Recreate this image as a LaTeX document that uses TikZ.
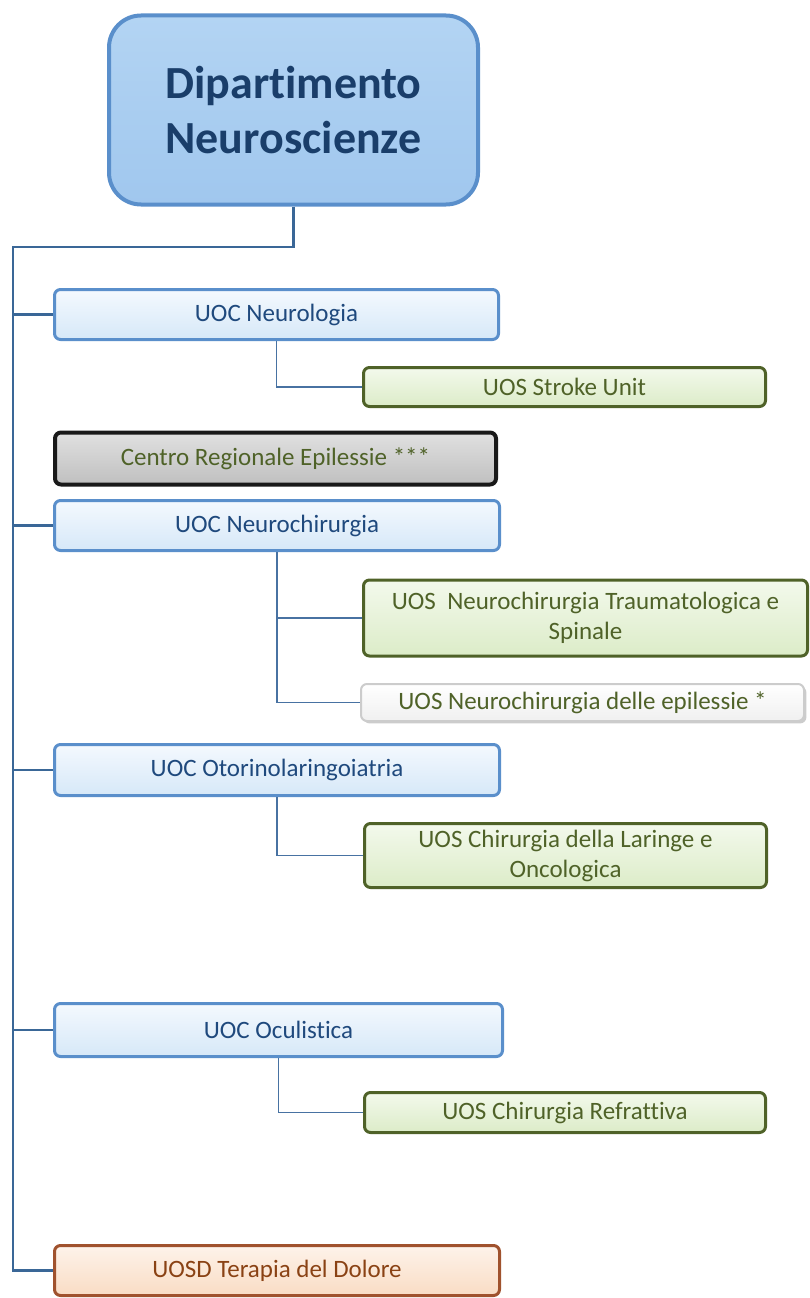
\documentclass[tikz,border=0pt]{standalone}
\usepackage{fontspec}
\setmainfont{Carlito}[Ligatures=NoCommon]
\usetikzlibrary{shadows}
\definecolor{uocline}{HTML}{5A8FCB}
\definecolor{uoctext}{HTML}{1F497D}
\definecolor{uoctop}{HTML}{F4F9FE}
\definecolor{uocbot}{HTML}{D6E8F8}
\definecolor{depttop}{HTML}{B3D4F3}
\definecolor{deptbot}{HTML}{A0C7EE}
\definecolor{uosline}{HTML}{4F6228}
\definecolor{uostext}{HTML}{4F6228}
\definecolor{uostop}{HTML}{F3F9EC}
\definecolor{uosbot}{HTML}{DCECC8}
\definecolor{dolline}{HTML}{A0522D}
\definecolor{doltext}{HTML}{8A4214}
\definecolor{doltop}{HTML}{FEF3EA}
\definecolor{dolbot}{HTML}{F9DCC4}
\definecolor{wire}{HTML}{3A6797}
\tikzset{
	box/.style={rounded corners=6pt, font=\fontsize{25}{30}\selectfont, align=center, inner sep=0pt},
	uoc/.style={box, draw=uocline, line width=3pt, top color=uoctop, bottom color=uocbot, text=uoctext},
	uos/.style={box, draw=uosline, line width=3pt, top color=uostop, bottom color=uosbot, text=uostext},
	link/.style={draw=wire, line width=2.2pt},
	sublink/.style={draw=uocline!80!black, line width=1.5pt}
}
\begin{document}
\begin{tikzpicture}[x=1pt,y=-1pt]
		\useasboundingbox(0,0)rectangle(809,1298);
		\node[box, draw=uocline, line width=4pt, rounded corners=32pt, top color=depttop, bottom color=deptbot,
			minimum width=369pt, minimum height=189pt, text=uoctext!85!black, font=\fontsize{46}{55}\selectfont\bfseries]
			(dept) at (293.5,110) {Dipartimento\\Neuroscienze};
		\node[uoc, minimum width=444pt, minimum height=50pt](neuro) at (276.5,314.5){UOC Neurologia};
		\node[uos, minimum width=402pt, minimum height=39pt](stroke) at (564.5,387){UOS Stroke Unit};
		\node[box, draw=black!90, line width=4pt, top color=black!12, bottom color=black!25, text=uostext,
			minimum width=441pt, minimum height=52pt](centro) at (275.5,458.5){Centro Regionale Epilessie ***};
		\node[uoc, minimum width=445pt, minimum height=50pt](nchir) at (277,525.5){UOC Neurochirurgia};
		\node[uos, minimum width=444pt, minimum height=76pt](trauma) at (585.5,618){UOS\ \ Neurochirurgia Traumatologica e\\Spinale};
		\node[box, draw=black!20, line width=2pt, top color=white, bottom color=black!6, text=uostext, drop shadow={opacity=0.4},
			minimum width=443pt, minimum height=37pt](epil) at (582.5,702.5){UOS Neurochirurgia delle epilessie *};
		\node[uoc, minimum width=445pt, minimum height=51pt](otor) at (277,770){UOC Otorinolaringoiatria};
		\node[uos, minimum width=402pt, minimum height=64pt](laringe) at (565.5,855.5){UOS Chirurgia della Laringe e\\Oncologica};
		\node[uoc, minimum width=448pt, minimum height=53pt](ocul) at (278.5,1030){UOC Oculistica};
		\node[uos, minimum width=401pt, minimum height=40pt](refr) at (565,1112.5){UOS Chirurgia Refrattiva};
		\node[box, draw=dolline, line width=3pt, top color=doltop, bottom color=dolbot, text=doltext,
			minimum width=445pt, minimum height=50pt](dolore) at (277,1270.5){UOSD Terapia del Dolore};
		% trunk
		\coordinate(top) at (13,247);
		\draw[link](dept.south)|-(top)|-(dolore.west);
		\foreach \u in {neuro,nchir,otor,ocul}
			\draw[link](top)|-(\u.west);
		% sub units
		\draw[sublink](neuro.south)|-(stroke.west);
		\draw[sublink](nchir.south)|-(trauma.west);
		\draw[sublink](nchir.south)|-(epil.west);
		\draw[sublink](otor.south)|-(laringe.west);
		\draw[sublink](ocul.south)|-(refr.west);
\end{tikzpicture}
\end{document}
